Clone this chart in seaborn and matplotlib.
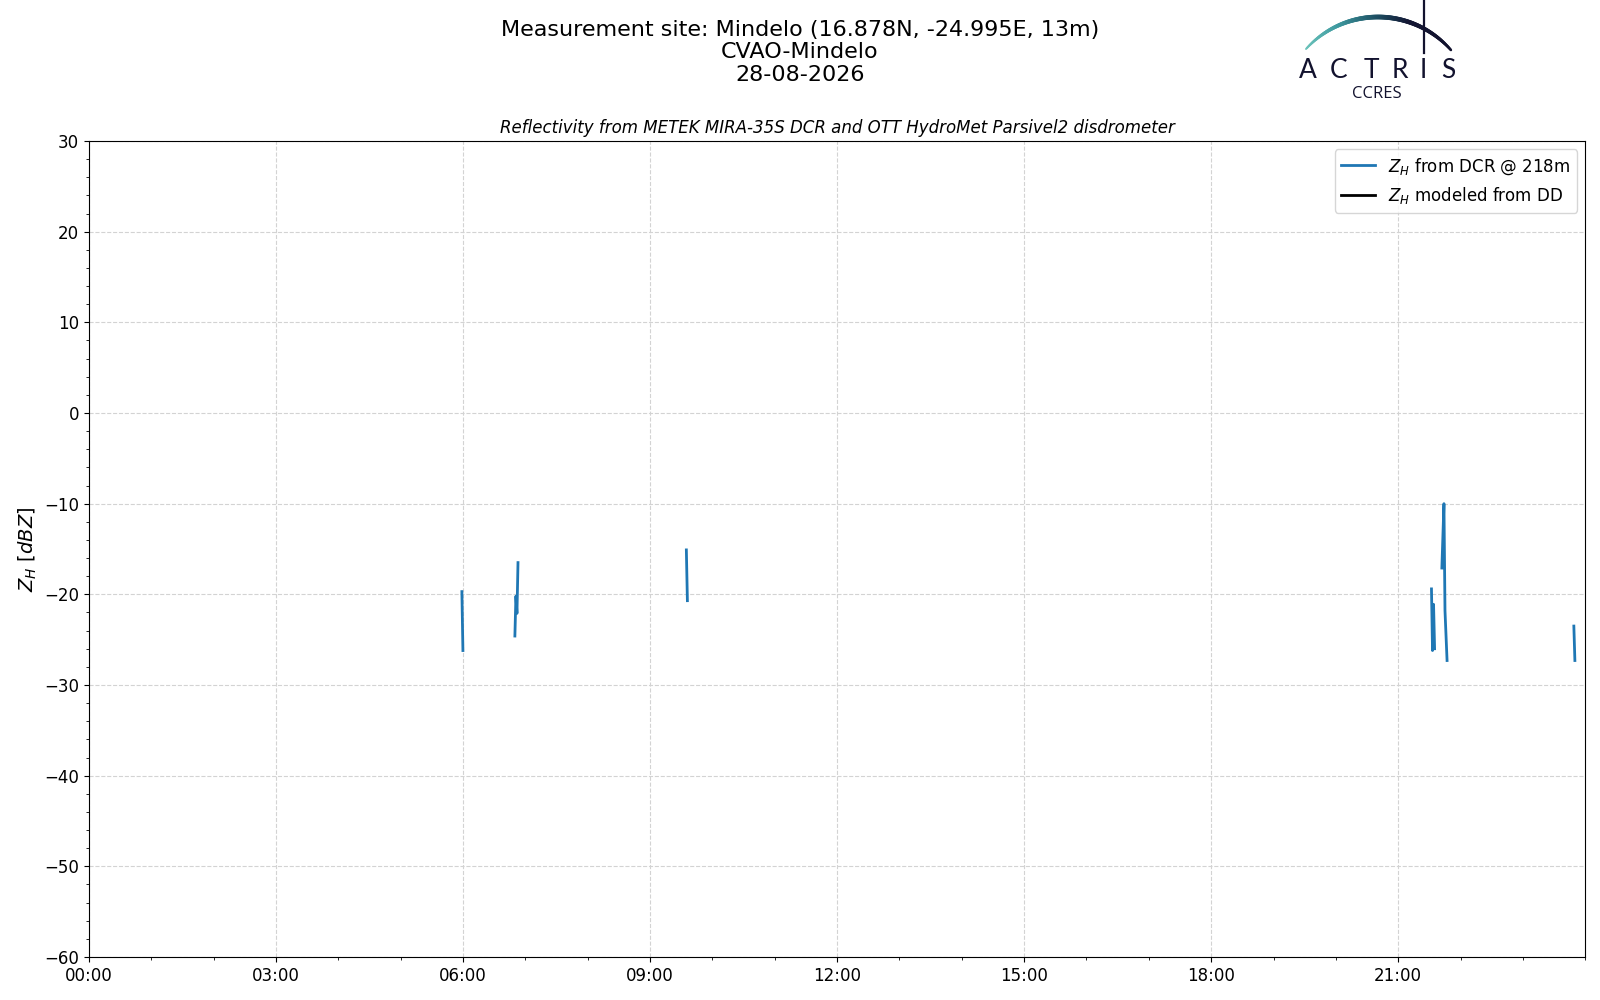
import numpy as np
import pandas as pd
import matplotlib
matplotlib.use("Agg")
import matplotlib.pyplot as plt
import matplotlib.dates as mdates
from matplotlib.ticker import MultipleLocator
from matplotlib.collections import LineCollection
from matplotlib.colors import LinearSegmentedColormap
import seaborn as sns

# ---------------- data ----------------
date_str = "2026-08-28"
seg1_times = ["05:59", "06:00"]
seg1_vals = [-19.7, -26.2]
seg2_times = ["06:50", "06:51", "06:52", "06:53"]
seg2_vals = [-24.6, -20.2, -22.1, -16.5]
seg3_times = ["09:35", "09:36"]
seg3_vals = [-15.1, -20.7]
seg4_times = ["21:32", "21:33", "21:34", "21:35"]
seg4_vals = [-19.4, -26.2, -21.1, -26.0]
seg5_times = ["21:42", "21:44", "21:45", "21:47"]
seg5_vals = [-17.1, -10.0, -21.8, -27.3]
seg6_times = ["23:49", "23:50"]
seg6_vals = [-23.5, -27.3]

segments_t = [seg1_times, seg2_times, seg3_times, seg4_times, seg5_times, seg6_times]
segments_v = [seg1_vals, seg2_vals, seg3_vals, seg4_vals, seg5_vals, seg6_vals]

y_ticks = [-60, -50, -40, -30, -20, -10, 0, 10, 20, 30]
x_tick_labels = ["00:00", "03:00", "06:00", "09:00", "12:00", "15:00", "18:00", "21:00"]

rows = []
for i, (ts, vs) in enumerate(zip(segments_t, segments_v)):
    for t, v in zip(ts, vs):
        rows.append({"time": pd.Timestamp(f"{date_str} {t}"), "zh": v, "seg": i})
df = pd.DataFrame(rows)

# ---------------- figure ----------------
fig = plt.figure(figsize=(16, 10), dpi=100)
ax = fig.add_axes([0.0555, 0.043, 0.9353, 0.816])

sns.lineplot(data=df, x="time", y="zh", units="seg", estimator=None,
             color="#1f77b4", linewidth=2, ax=ax, legend=False)

# legend handles
ax.plot([], [], color="#1f77b4", linewidth=2, label=r"$Z_H$ from DCR @ 218m")
ax.plot([], [], color="black", linewidth=2, label=r"$Z_H$ modeled from DD")
ax.legend(loc="upper right", fontsize=12, framealpha=0.8)

start = pd.Timestamp(f"{date_str} 00:00")
ax.set_xlim(start, start + pd.Timedelta(days=1))
ax.set_ylim(-60, 30)
ax.set_yticks(y_ticks)
ax.yaxis.set_minor_locator(MultipleLocator(2))
ax.set_xticks([pd.Timestamp(f"{date_str} {t}") for t in x_tick_labels])
ax.xaxis.set_minor_locator(mdates.HourLocator(interval=1))
ax.xaxis.set_major_formatter(mdates.DateFormatter("%H:%M"))
ax.tick_params(axis="both", which="major", labelsize=12)
ax.grid(True, which="major", linestyle="--", color="#d3d3d3", linewidth=0.8)
ax.set_xlabel("")
ax.set_ylabel(r"$Z_H$ [$dBZ$]", fontsize=14)
ax.set_title("Reflectivity from METEK MIRA-35S DCR and OTT HydroMet Parsivel2 disdrometer",
             fontsize=12, style="italic", pad=6)

# header
fig.text(0.5, 1 - 36 / 1000, "Measurement site: Mindelo (16.878N, -24.995E, 13m)",
         ha="center", va="baseline", fontsize=16)
fig.text(0.5, 1 - 58.5 / 1000, "CVAO-Mindelo", ha="center", va="baseline", fontsize=16)
fig.text(0.5, 1 - 81 / 1000, "28-08-2026", ha="center", va="baseline", fontsize=16)

# ---------------- logo ----------------
lx0, lx1, ly0, ly1 = 1280, 1480, 0, 110
lax = fig.add_axes([lx0 / 1600, 1 - ly1 / 1000, (lx1 - lx0) / 1600, (ly1 - ly0) / 1000])
lax.set_xlim(lx0, lx1)
lax.set_ylim(ly1, ly0)
lax.axis("off")
navy = "#12122e"
cx, cy, r = 1378, 114, 97
a0 = np.arctan2(-(49 - cy), 1306 - cx)
a1 = np.arctan2(-(50 - cy), 1451 - cx)
th = np.linspace(a0, a1, 150)
px = cx + r * np.cos(th)
py = cy - r * np.sin(th)
pts = np.array([px, py]).T.reshape(-1, 1, 2)
segs = np.concatenate([pts[:-1], pts[1:]], axis=1)
fr = np.linspace(0, 1, len(segs))
arc_cmap = LinearSegmentedColormap.from_list(
    "arc", [(0, "#6cc4bb"), (0.25, "#3f9aa0"), (0.5, "#1d4f63"), (0.7, "#141633"), (1, "#12122e")])
cols = arc_cmap(fr)
widths = 0.8 + 2.6 * np.sin(np.pi * np.clip(fr * 0.85 + 0.05, 0, 1)) ** 0.8
lax.add_collection(LineCollection(segs, colors=cols, linewidths=widths, capstyle="round"))
lax.plot([1423.5, 1423.5], [1, 53], color=navy, linewidth=1.6)
for ch, xx in zip("ACTRIS", [1308, 1339, 1371, 1400, 1423.5, 1448]):
    lax.text(xx, 78, ch, ha="center", va="baseline", fontsize=19, color=navy,
             family=["Lato", "DejaVu Sans"], fontweight="normal")
lax.text(1377, 98.5, "CCRES", ha="center", va="baseline", fontsize=12, color=navy,
         family=["Open Sans", "DejaVu Sans"])

fig.savefig("out.png", dpi=100)
